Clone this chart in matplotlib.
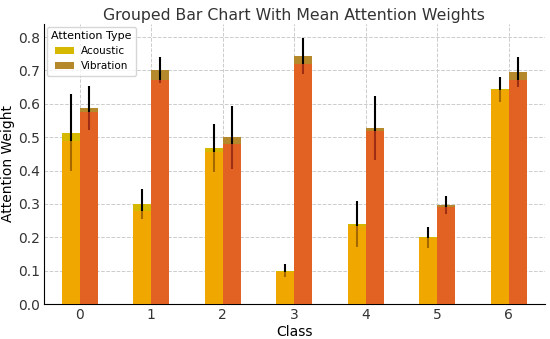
import matplotlib
matplotlib.use("Agg")
import matplotlib.pyplot as plt
import numpy as np

classes = [0, 1, 2, 3, 4, 5, 6]
acoustic_mean = [0.513, 0.300, 0.468, 0.100, 0.240, 0.200, 0.643]
acoustic_err = [0.115, 0.045, 0.073, 0.020, 0.070, 0.031, 0.038]
vibration_mean = [0.588, 0.700, 0.500, 0.742, 0.528, 0.298, 0.695]
vibration_err = [0.066, 0.039, 0.094, 0.054, 0.096, 0.027, 0.044]
# inner (overlay) bar heights seen under the top band
acoustic_inner = [0.490, 0.280, 0.455, 0.095, 0.235, 0.198, 0.640]
vibration_inner = [0.575, 0.670, 0.480, 0.720, 0.520, 0.290, 0.670]

x = np.arange(len(classes))
w = 0.25

fig, ax = plt.subplots(figsize=(5.5, 3.39), dpi=100)
ax.bar(x - w/2, acoustic_mean, w, color='#D6B800', label='Acoustic', zorder=2)
ax.bar(x + w/2, vibration_mean, w, color='#B5882B', label='Vibration', zorder=2)
ax.errorbar(x - w/2, acoustic_mean, yerr=acoustic_err, fmt='none', ecolor='black', elinewidth=1.5, zorder=3)
ax.errorbar(x + w/2, vibration_mean, yerr=vibration_err, fmt='none', ecolor='black', elinewidth=1.5, zorder=3)
ax.bar(x - w/2, acoustic_inner, w, color='#FFA000', alpha=0.65, zorder=4)
ax.bar(x + w/2, vibration_inner, w, color='#FF4C1F', alpha=0.62, zorder=4)

ax.set_xlim(-0.5, 6.5)
ax.set_ylim(0, 0.84)
ax.set_xticks(x)
ax.set_xticklabels([str(c) for c in classes])
ax.set_xlabel('Class', fontsize=10, labelpad=2)
ax.set_ylabel('Attention Weight', fontsize=10, labelpad=2)
ax.set_title('Grouped Bar Chart With Mean Attention Weights', fontsize=11.3, color='#333333', pad=3)
ax.grid(True, linestyle='--', color='#cccccc', linewidth=0.7, zorder=0)
ax.set_axisbelow(True)
for s in ['top', 'right']:
    ax.spines[s].set_visible(False)
ax.tick_params(labelsize=10, colors='#333333', length=0, pad=3)
leg = ax.legend(title='Attention Type', loc='upper left', fontsize=7.5, title_fontsize=8,
                handlelength=1.8, handletextpad=0.7, borderaxespad=0.3)
fig.subplots_adjust(left=0.08, right=0.99, bottom=0.103, top=0.93)
fig.savefig('out.png', dpi=100)
